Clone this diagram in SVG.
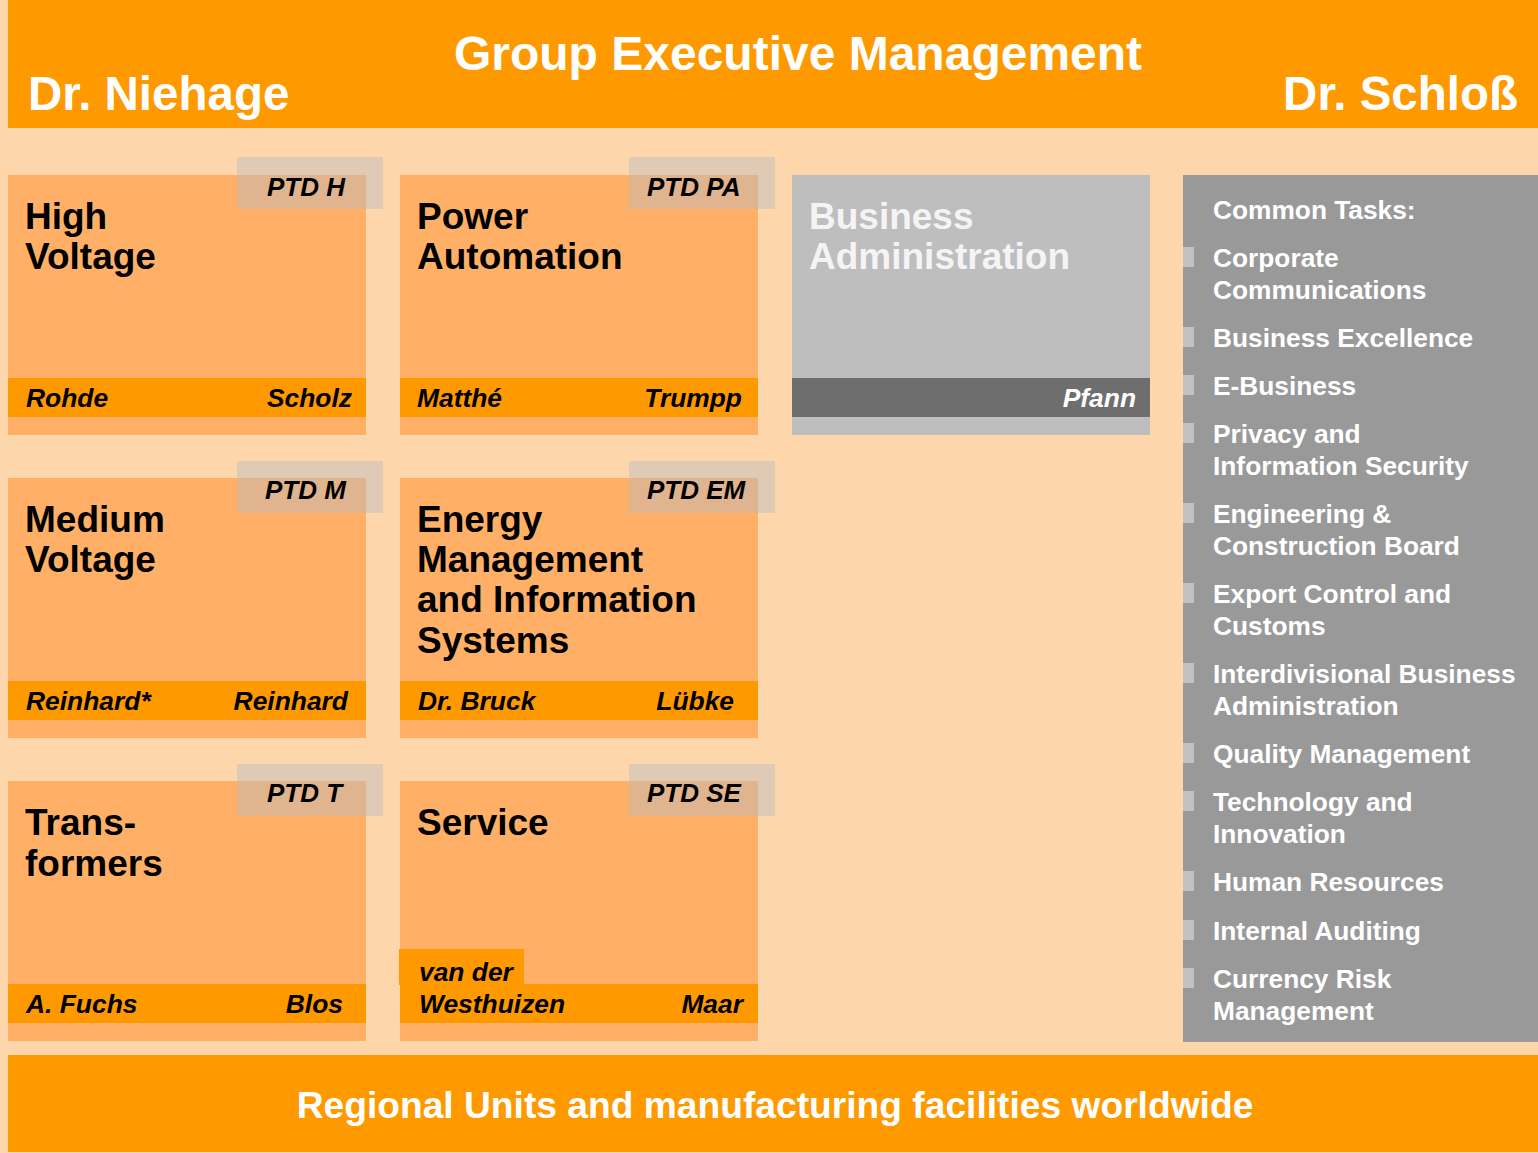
<svg xmlns="http://www.w3.org/2000/svg" width="1538" height="1153" viewBox="0 0 1538 1153">
<style>
text{font-family:"Liberation Sans",Arial,sans-serif;font-weight:bold}
.hdr{fill:#fff;font-size:47.5px}
.ttl{fill:#000;font-size:37px}
.tag{fill:#000;font-size:26px;font-style:italic}
.nm{fill:#000;font-size:26.4px;font-style:italic}
.li{fill:#fff;font-size:26.3px}
.box{fill:#FFB066}
.band{fill:#FF9900}
.tagbg{fill:#B8B9C2;opacity:0.43}
.bul{fill:#C2C2C2}
</style>
<rect x="0" y="0" width="1538" height="1153" fill="#FED6AB"/>
<g id="header">
<rect x="8" y="0" width="1530" height="128" fill="#FF9900"/>
<text class="hdr" x="798" y="70" text-anchor="middle" style="font-size:48px">Group Executive Management</text>
<text class="hdr" x="28" y="110">Dr. Niehage</text>
<text class="hdr" x="1518" y="110" text-anchor="end">Dr. Schloß</text>
</g>
<g id="high-voltage">
<rect class="box" x="8" y="175" width="358" height="260"/>
<rect class="band" x="8" y="378" width="358" height="39"/>
<rect class="tagbg" x="237" y="157" width="146" height="52"/>
<text class="tag" x="267" y="196">PTD H</text>
<text class="ttl" x="25" y="229">High</text>
<text class="ttl" x="25" y="269">Voltage</text>
<text class="nm" x="26" y="407">Rohde</text>
<text class="nm" x="352" y="407" text-anchor="end">Scholz</text>
</g>
<g id="power-automation">
<rect class="box" x="400" y="175" width="358" height="260"/>
<rect class="band" x="400" y="378" width="358" height="39"/>
<rect class="tagbg" x="629" y="157" width="146" height="52"/>
<text class="tag" x="647" y="196">PTD PA</text>
<text class="ttl" x="417" y="229">Power</text>
<text class="ttl" x="417" y="269">Automation</text>
<text class="nm" x="417" y="407">Matthé</text>
<text class="nm" x="742" y="407" text-anchor="end">Trumpp</text>
</g>
<g id="business-administration">
<rect x="792" y="175" width="358" height="260" fill="#BEBEBE"/>
<rect x="792" y="378" width="358" height="39" fill="#6E6E6E"/>
<text class="ttl" x="809" y="229" style="fill:#F4F4F4">Business</text>
<text class="ttl" x="809" y="269" style="fill:#F4F4F4">Administration</text>
<text class="nm" x="1136" y="407" text-anchor="end" style="fill:#fff">Pfann</text>
</g>
<g id="medium-voltage">
<rect class="box" x="8" y="478" width="358" height="260"/>
<rect class="band" x="8" y="681" width="358" height="39"/>
<rect class="tagbg" x="237" y="461" width="146" height="52"/>
<text class="tag" x="265" y="499">PTD M</text>
<text class="ttl" x="25" y="532">Medium</text>
<text class="ttl" x="25" y="572">Voltage</text>
<text class="nm" x="26" y="710">Reinhard*</text>
<text class="nm" x="348" y="710" text-anchor="end">Reinhard</text>
</g>
<g id="energy-management">
<rect class="box" x="400" y="478" width="358" height="260"/>
<rect class="band" x="400" y="681" width="358" height="39"/>
<rect class="tagbg" x="629" y="461" width="146" height="52"/>
<text class="tag" x="647" y="499">PTD EM</text>
<text class="ttl" x="417" y="532">Energy</text>
<text class="ttl" x="417" y="572">Management</text>
<text class="ttl" x="417" y="612">and Information</text>
<text class="ttl" x="417" y="653">Systems</text>
<text class="nm" x="418" y="710">Dr. Bruck</text>
<text class="nm" x="734" y="710" text-anchor="end">Lübke</text>
</g>
<g id="transformers">
<rect class="box" x="8" y="781" width="358" height="260"/>
<rect class="band" x="8" y="984" width="358" height="39"/>
<rect class="tagbg" x="237" y="764" width="146" height="52"/>
<text class="tag" x="267" y="802">PTD T</text>
<text class="ttl" x="25" y="835">Trans-</text>
<text class="ttl" x="25" y="876">formers</text>
<text class="nm" x="26" y="1013">A. Fuchs</text>
<text class="nm" x="343" y="1013" text-anchor="end">Blos</text>
</g>
<g id="service">
<rect class="box" x="400" y="781" width="358" height="260"/>
<rect class="band" x="400" y="984" width="358" height="39"/>
<rect class="band" x="399" y="949" width="125" height="36"/>
<rect class="tagbg" x="629" y="764" width="146" height="52"/>
<text class="tag" x="647" y="802">PTD SE</text>
<text class="ttl" x="417" y="835">Service</text>
<text class="nm" x="419" y="981">van der</text>
<text class="nm" x="419" y="1013">Westhuizen</text>
<text class="nm" x="743" y="1013" text-anchor="end">Maar</text>
</g>
<g id="common-tasks">
<rect x="1183" y="175" width="355" height="867" fill="#999999"/>
<text class="li" x="1213" y="219">Common Tasks:</text>
<rect class="bul" x="1183" y="247" width="11" height="20"/>
<text class="li" x="1213" y="267">Corporate</text>
<text class="li" x="1213" y="299">Communications</text>
<rect class="bul" x="1183" y="327" width="11" height="20"/>
<text class="li" x="1213" y="347">Business Excellence</text>
<rect class="bul" x="1183" y="375" width="11" height="20"/>
<text class="li" x="1213" y="395">E-Business</text>
<rect class="bul" x="1183" y="423" width="11" height="20"/>
<text class="li" x="1213" y="443">Privacy and</text>
<text class="li" x="1213" y="475">Information Security</text>
<rect class="bul" x="1183" y="503" width="11" height="20"/>
<text class="li" x="1213" y="523">Engineering &amp;</text>
<text class="li" x="1213" y="555">Construction Board</text>
<rect class="bul" x="1183" y="583" width="11" height="20"/>
<text class="li" x="1213" y="603">Export Control and</text>
<text class="li" x="1213" y="635">Customs</text>
<rect class="bul" x="1183" y="663" width="11" height="20"/>
<text class="li" x="1213" y="683">Interdivisional Business</text>
<text class="li" x="1213" y="715">Administration</text>
<rect class="bul" x="1183" y="743" width="11" height="20"/>
<text class="li" x="1213" y="763">Quality Management</text>
<rect class="bul" x="1183" y="791" width="11" height="20"/>
<text class="li" x="1213" y="811">Technology and</text>
<text class="li" x="1213" y="843">Innovation</text>
<rect class="bul" x="1183" y="871" width="11" height="20"/>
<text class="li" x="1213" y="891">Human Resources</text>
<rect class="bul" x="1183" y="920" width="11" height="20"/>
<text class="li" x="1213" y="940">Internal Auditing</text>
<rect class="bul" x="1183" y="968" width="11" height="20"/>
<text class="li" x="1213" y="988">Currency Risk</text>
<text class="li" x="1213" y="1020">Management</text>
</g>
<g id="regional-units">
<rect x="8" y="1055" width="1530" height="97" fill="#FF9900"/>
<text x="775" y="1118" text-anchor="middle" font-size="37.2" fill="#fff">Regional Units and manufacturing facilities worldwide</text>
</g>
<g id="connectors"/>
</svg>
